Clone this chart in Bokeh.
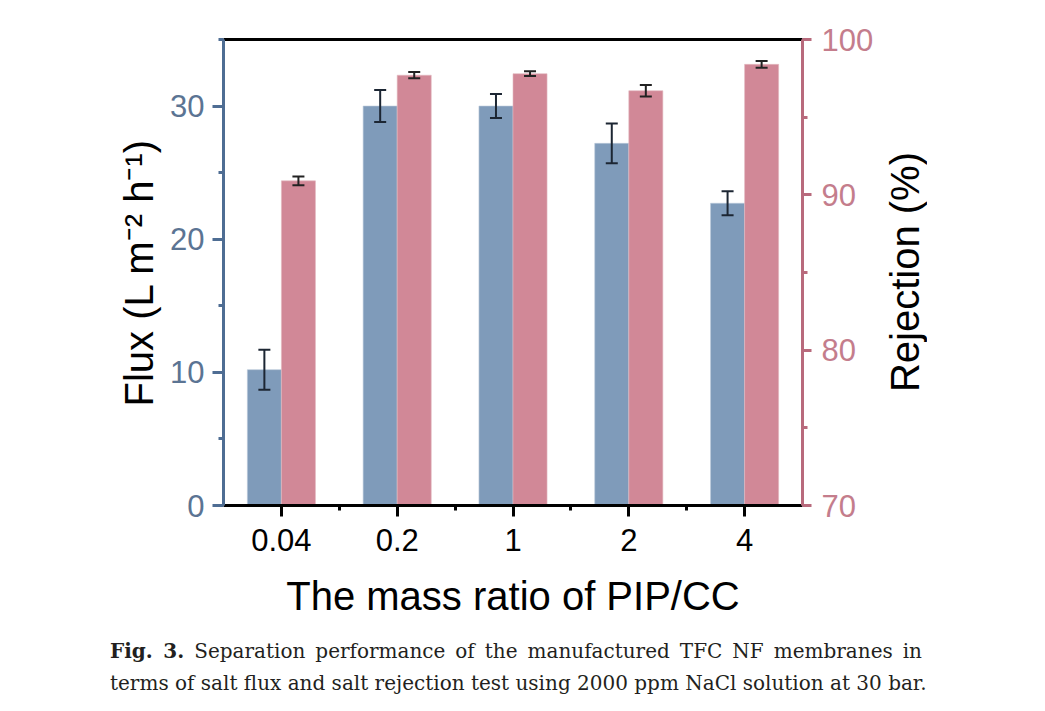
from bokeh.plotting import figure
from bokeh.models import (Range1d, LinearAxis, FixedTicker, Whisker, ColumnDataSource,
                          TeeHead, Div)
from bokeh.layouts import column, row
from bokeh.embed import file_html
from bokeh.resources import INLINE

# ---------------- data ----------------
categories = ["0.04", "0.2", "1", "2", "4"]
flux = [10.2, 30.0, 30.0, 27.2, 22.7]
flux_err = [1.5, 1.2, 0.9, 1.5, 0.9]
rejection = [90.9, 97.7, 97.8, 96.7, 98.4]
rejection_err = [0.28, 0.2, 0.15, 0.37, 0.22]

flux_ticks = [0, 10, 20, 30]
flux_minor = [5, 15, 25, 35]
rej_ticks = [70, 80, 90, 100]
rej_minor = [75, 85, 95]

x_title = "The mass ratio of PIP/CC"
y_title = "Flux (L m\u207b\u00b2 h\u207b\u00b9)"
y2_title = "Rejection (%)"
caption_bold = "Fig. 3."
caption_line1 = "Separation performance of the manufactured TFC NF membranes in"
caption_line2 = "terms of salt flux and salt rejection test using 2000 ppm NaCl solution at 30 bar."

# ---------------- style ----------------
BLUE_BAR = "#7f9bba"
RED_BAR = "#d18897"
BLUE_AX = "#4e6d93"
BLUE_TXT = "#5b7493"
RED_AX = "#b86a7c"
RED_TXT = "#c47d8c"
SANS = "Liberation Sans"
SERIF = "DejaVu Serif"
TICK_FS = "31px"
TITLE_FS = "40px"

n = len(categories)
xs = list(range(n))
bw = 0.294
off = bw / 2

TOTAL_W = 1029
W, H = 880, 635
FL, FT = 223, 39
FR = W - 802
FB = H - 505

p = figure(width=W, height=H, x_range=Range1d(-0.5, n - 0.5), y_range=Range1d(0, 35),
           output_backend="svg", toolbar_location=None,
           min_border_left=FL, min_border_right=FR, min_border_top=FT, min_border_bottom=FB)
p.extra_y_ranges = {"rej": Range1d(70, 100)}
p.grid.visible = False
p.outline_line_color = None
p.background_fill_color = "white"
p.border_fill_color = "white"

src = ColumnDataSource(dict(
    xb=[x - off for x in xs], xr=[x + off for x in xs],
    flux=flux, fu=[f + e for f, e in zip(flux, flux_err)], fl=[f - e for f, e in zip(flux, flux_err)],
    rej=rejection, ru=[r + e for r, e in zip(rejection, rejection_err)],
    rl=[r - e for r, e in zip(rejection, rejection_err)],
))

p.vbar(x="xb", top="flux", bottom=0, width=bw, source=src, fill_color=BLUE_BAR,
       line_color="#b9c8d8", line_width=0.6)
p.vbar(x="xr", top="rej", bottom=70, width=bw, source=src, fill_color=RED_BAR,
       line_color="#e2b8c0", line_width=0.6, y_range_name="rej")

wb = Whisker(base="xb", upper="fu", lower="fl", source=src, line_color="#1c2633", line_width=2,
             upper_head=TeeHead(size=12, line_color="#1c2633", line_width=2),
             lower_head=TeeHead(size=12, line_color="#1c2633", line_width=2), level="overlay")
wr = Whisker(base="xr", upper="ru", lower="rl", source=src, line_color="#222222", line_width=2,
             upper_head=TeeHead(size=12, line_color="#222222", line_width=2),
             lower_head=TeeHead(size=12, line_color="#222222", line_width=2),
             y_range_name="rej", level="overlay")
p.add_layout(wb)
p.add_layout(wr)

# x axis
xa = p.xaxis[0]
xa.ticker = FixedTicker(ticks=xs, minor_ticks=[x + 0.5 for x in xs[:-1]])
xa.major_label_overrides = {i: c for i, c in enumerate(categories)}
xa.axis_label = x_title
xa.axis_line_color = "black"
xa.axis_line_width = 3
xa.major_tick_line_color = "black"
xa.major_tick_line_width = 3
xa.major_tick_out = 11
xa.major_tick_in = 0
xa.minor_tick_line_color = "black"
xa.minor_tick_line_width = 3
xa.minor_tick_out = 5
xa.minor_tick_in = 0
xa.major_label_text_font = SANS
xa.major_label_text_font_size = TICK_FS
xa.major_label_text_color = "black"
xa.major_label_standoff = 12
xa.axis_label_text_font = SANS
xa.axis_label_text_font_size = TITLE_FS
xa.axis_label_text_font_style = "normal"
xa.axis_label_text_color = "black"
xa.axis_label_standoff = 20

# left axis
ya = p.yaxis[0]
ya.ticker = FixedTicker(ticks=flux_ticks, minor_ticks=flux_minor)
ya.axis_label = y_title
ya.axis_line_color = BLUE_AX
ya.axis_line_width = 3
ya.major_tick_line_color = BLUE_AX
ya.major_tick_line_width = 3
ya.major_tick_out = 11
ya.major_tick_in = 0
ya.minor_tick_line_color = BLUE_AX
ya.minor_tick_line_width = 3
ya.minor_tick_out = 5
ya.minor_tick_in = 0
ya.major_label_text_font = SANS
ya.major_label_text_font_size = TICK_FS
ya.major_label_text_color = BLUE_TXT
ya.major_label_standoff = 8
ya.axis_label_text_font = SANS
ya.axis_label_text_font_size = TITLE_FS
ya.axis_label_text_font_style = "normal"
ya.axis_label_text_color = "black"
ya.axis_label_standoff = 6

# right axis (its title is drawn in the side Div so it reads bottom-to-top)
ra = LinearAxis(y_range_name="rej", ticker=FixedTicker(ticks=rej_ticks, minor_ticks=rej_minor))
ra.axis_line_color = RED_AX
ra.axis_line_width = 3
ra.major_tick_line_color = RED_AX
ra.major_tick_line_width = 3
ra.major_tick_out = 9
ra.major_tick_in = 0
ra.minor_tick_line_color = RED_AX
ra.minor_tick_line_width = 3
ra.minor_tick_out = 5
ra.minor_tick_in = 0
ra.major_label_text_font = SANS
ra.major_label_text_font_size = TICK_FS
ra.major_label_text_color = RED_TXT
ra.major_label_standoff = 10
p.add_layout(ra, "right")

# top frame line
ta = LinearAxis(ticker=FixedTicker(ticks=[]), major_label_text_font_size="0px")
ta.axis_line_color = "black"
ta.axis_line_width = 3
ta.major_tick_line_color = None
ta.minor_tick_line_color = None
p.add_layout(ta, "above")

side_w = TOTAL_W - W
side_html = (f'<div style="height:{2 * 272}px;display:flex;align-items:center;padding-left:2px;">'
             f'<div style="writing-mode:vertical-rl;transform:rotate(180deg);white-space:nowrap;'
             f'font-family:\'{SANS}\';font-size:{TITLE_FS};color:black;line-height:1.15;">{y2_title}</div></div>')
side = Div(text=side_html, width=side_w, height=H, margin=(0, 0, 0, 0))

line_style = ("white-space:nowrap;text-align:justify;text-align-last:justify;"
              "width:812px;margin-left:110px;")
cap_html = (f'<div style="font-family:\'{SERIF}\';font-size:20px;line-height:32px;color:#231f20;">'
            f'<div style="{line_style}"><b>{caption_bold}</b> {caption_line1}</div>'
            f'<div style="{line_style}">{caption_line2}</div></div>')
cap = Div(text=cap_html, width=TOTAL_W, margin=(0, 0, 0, 0))

open("out.html", "w").write(file_html(column(row(p, side), cap), INLINE))
